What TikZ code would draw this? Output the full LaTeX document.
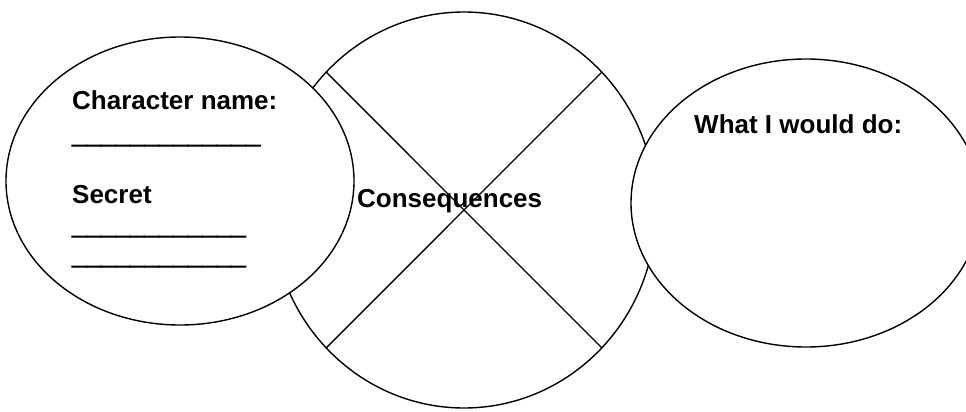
\documentclass[tikz,border=0pt]{standalone}
\usepackage{fontspec}
\setmainfont{Liberation Sans}
\usetikzlibrary{shapes.geometric}
\tikzset{
  blob/.style={ellipse, draw=black, line width=1.4pt, inner sep=0pt, fill=white},
  label/.style={inner sep=0pt, anchor=base west, font=\fontsize{26}{30}\selectfont\bfseries},
  blank/.style={label, font=\fontsize{26}{30}\selectfont\bfseries\addfontfeature{FakeBold=4}},
  divider/.style={draw=black, line width=1.4pt}
}
\begin{document}
\begin{tikzpicture}[x=1pt, y=-1pt]
\useasboundingbox (0,0) rectangle (966,412);
% centre circle with cross
\node[blob, minimum width=384pt, minimum height=396pt] (cons) at (464,210) {};
\draw[divider] (cons.45) -- (cons.225);
\draw[divider] (cons.135) -- (cons.-45);
% left and right ellipses
\node[blob, minimum width=348pt, minimum height=288pt] (char) at (180,181) {};
\node[blob, minimum width=350pt, minimum height=288pt] (todo) at (806,203) {};
% texts
\node[label] (cname) at (72,109) {Character name:};
\node[blank] (cline) at (72,143) {\_\_\_\_\_\_\_\_\_\_\_\_\_};
\node[label] (secret) at (72,203) {Secret};
\node[blank] (sline1) at (72,234) {\_\_\_\_\_\_\_\_\_\_\_\_};
\node[blank] (sline2) at (72,264) {\_\_\_\_\_\_\_\_\_\_\_\_};
\node[label] (conseq) at (357,207) {Consequences};
\node[label] (what) at (694,133) {What I would do:};
\end{tikzpicture}
\end{document}
